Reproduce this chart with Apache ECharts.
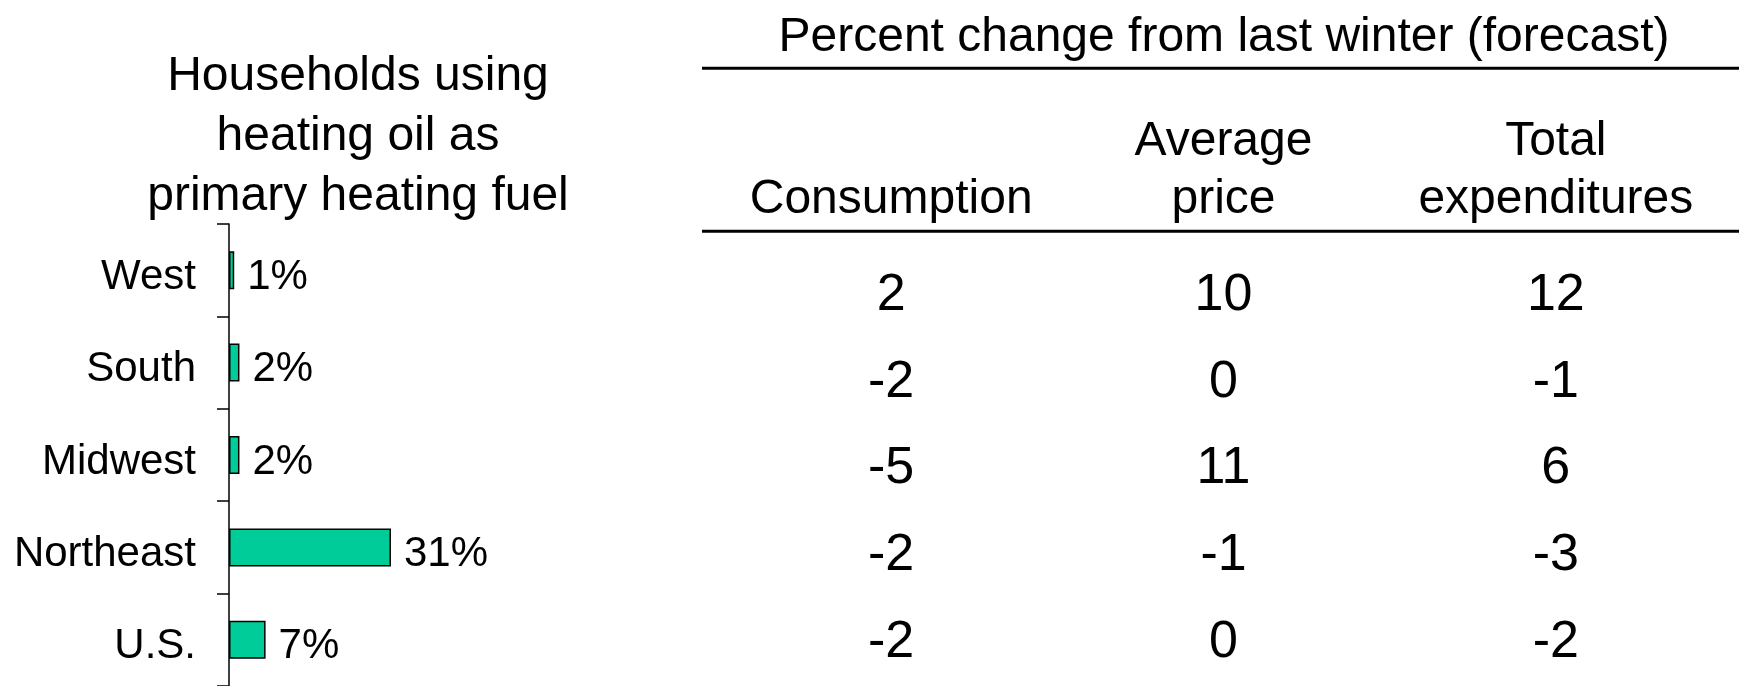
<!DOCTYPE html>
<html>
<head>
<meta charset="utf-8">
<script src="https://cdn.jsdelivr.net/npm/echarts@6/dist/echarts.min.js"></script>
<style>
html,body{margin:0;padding:0;background:#fff;}
#chart{width:1739px;height:686px;}
</style>
</head>
<body>
<div id="chart"></div>
<script>
// ---- data ----
const regions = ['West', 'South', 'Midwest', 'Northeast', 'U.S.'];
const householdShare = [1, 2, 2, 31, 7];
const tableColumns = ['Consumption', 'Average\nprice', 'Total\nexpenditures'];
const consumption = [2, -2, -5, -2, -2];
const averagePrice = [10, 0, 11, -1, 0];
const totalExpenditures = [12, -1, 6, -3, -2];
const leftTitle = 'Households using\nheating oil as\nprimary heating fuel';
const rightTitle = 'Percent change from last winter (forecast)';

const FONT = '"Liberation Sans", Arial, Helvetica, sans-serif';
const chart = echarts.init(document.getElementById('chart'), null, {renderer: 'canvas'});

const tableSeries = [consumption, averagePrice, totalExpenditures].map((vals, ci) => ({
  type: 'scatter',
  xAxisIndex: 1,
  yAxisIndex: 1,
  symbolSize: 1,
  itemStyle: {color: 'rgba(0,0,0,0)', opacity: 1},
  silent: true,
  data: vals.map((v, ri) => [tableColumns[ci], regions[ri], v]),
  label: {
    show: true,
    position: 'inside',
    formatter: p => String(p.value[2]),
    fontSize: 52,
    fontFamily: FONT,
    color: '#000',
    opacity: 1
  }
}));

chart.setOption({
  animation: false,
  backgroundColor: '#fff',
  textStyle: {fontFamily: FONT},
  grid: [
    {left: 229, top: 224, width: 209, height: 462},
    {left: 725, top: 252, width: 997, height: 453}
  ],
  xAxis: [
    {type: 'value', gridIndex: 0, min: 0, max: 40, show: false},
    {
      type: 'category', gridIndex: 1, position: 'top', data: tableColumns,
      axisLine: {show: false}, axisTick: {show: false}, splitLine: {show: false},
      axisLabel: {
        fontSize: 48, lineHeight: 58, color: '#000', fontFamily: FONT,
        margin: 23.5, verticalAlign: 'bottom', align: 'center', interval: 0
      }
    }
  ],
  yAxis: [
    {
      type: 'category', gridIndex: 0, inverse: true, data: regions,
      axisLine: {show: true, lineStyle: {color: '#000', width: 1.5}},
      axisTick: {show: true, length: 12, lineStyle: {color: '#000', width: 1.5}},
      axisLabel: {fontSize: 42, color: '#000', fontFamily: FONT, margin: 33, verticalAlign: 'top', lineHeight: 14}
    },
    {
      type: 'category', gridIndex: 1, inverse: true, data: regions, show: false
    }
  ],
  series: [
    {
      type: 'bar',
      xAxisIndex: 0, yAxisIndex: 0,
      data: householdShare,
      barWidth: 38,
      itemStyle: {color: '#00CC99', borderColor: '#000', borderWidth: 1.5},
      label: {
        show: true, position: 'right', distance: 13, offset: [0, 7],
        formatter: '{c}%', fontSize: 42, color: '#000', fontFamily: FONT
      }
    }
  ].concat(tableSeries),
  graphic: [
    {
      type: 'text', x: 358, y: 47,
      style: {
        text: leftTitle, fontSize: 48, lineHeight: 60, fontFamily: FONT,
        fill: '#000', align: 'center', verticalAlign: 'top'
      }
    },
    {
      type: 'text', x: 1224, y: 38,
      style: {
        text: rightTitle, fontSize: 48, fontFamily: FONT,
        fill: '#000', align: 'center', verticalAlign: 'middle'
      }
    },
    {type: 'line', shape: {x1: 702, y1: 68.3, x2: 1739, y2: 68.3}, style: {stroke: '#000', lineWidth: 3}},
    {type: 'line', shape: {x1: 702, y1: 231.3, x2: 1739, y2: 231.3}, style: {stroke: '#000', lineWidth: 3}}
  ]
});
</script>
</body>
</html>
